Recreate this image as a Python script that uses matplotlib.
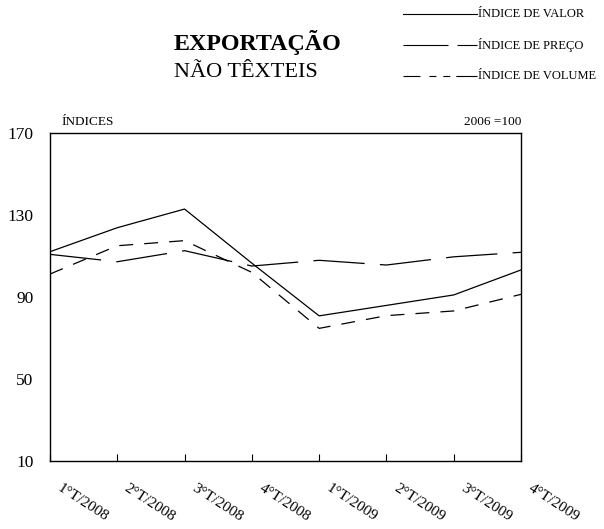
import matplotlib.pyplot as plt
import matplotlib.transforms as mtransforms
from matplotlib.lines import Line2D

plt.rcParams['font.family'] = ['Liberation Serif', 'DejaVu Serif']
plt.rcParams['lines.scale_dashes'] = False

# data
quarters = ["1°T/2008", "2°T/2008", "3°T/2008", "4°T/2008",
            "1°T/2009", "2°T/2009", "3°T/2009", "4°T/2009"]
valor = [112.1, 123.8, 132.9, 106.5, 80.8, 85.9, 91.0, 103.2]
preco = [110.8, 107.2, 112.6, 105.1, 107.9, 105.6, 109.6, 111.8]
volume = [101.2, 115.0, 117.5, 102.0, 74.7, 80.9, 83.2, 91.3]
y_ticks = [10, 50, 90, 130, 170]

fig = plt.figure(figsize=(6.04, 5.29), dpi=100)
ax = fig.add_axes([50 / 604, 1 - 461 / 529, 471 / 604, 328 / 529])

x = list(range(len(quarters)))
lw = 0.9
ax.plot(x, valor, color="black", lw=lw, ls="-")
ax.plot(x, preco, color="black", lw=lw, ls=(0, (37, 11)))
ax.plot(x, volume, color="black", lw=lw, ls=(0, (10, 8)))

ax.set_xlim(0, len(quarters) - 1)
ax.set_ylim(10, 170)
ax.set_yticks(y_ticks)
ax.tick_params(axis="y", length=0, pad=12, labelsize=12.5)
ax.set_xticks(x)
ax.set_xticklabels(quarters, fontsize=11, rotation=-33, ha="left",
                   rotation_mode="anchor")
ax.tick_params(axis="x", direction="in", length=5, pad=15, width=0.8)
shift = mtransforms.ScaledTranslation(12 / 100, 0, fig.dpi_scale_trans)
for lab in ax.get_xticklabels():
    lab.set_transform(lab.get_transform() + shift)
for s in ax.spines.values():
    s.set_linewidth(1.0)

# header texts
fig.text(174 / 604, 1 - 50 / 529, "EXPORTAÇÃO", fontsize=17.3,
         fontweight="bold", ha="left", va="baseline")
fig.text(174 / 604, 1 - 77 / 529, "NÃO TÊXTEIS", fontsize=16,
         ha="left", va="baseline")
fig.text(61 / 604, 1 - 125 / 529, "ÍNDICES", fontsize=9.5, va="baseline")
fig.text(521 / 604, 1 - 125 / 529, "2006 =100", fontsize=9.5,
         ha="right", va="baseline")

# legend drawn by hand
legend_items = [("ÍNDICE DE VALOR", "-"),
                ("ÍNDICE DE PREÇO", (0, (32.4, 6.5, 20, 0))),
                ("ÍNDICE DE VOLUME", (0, (12.2, 6.5, 5, 5, 5, 4.3, 20, 0)))]
for i, (label, style) in enumerate(legend_items):
    yy = 1 - (14 + 31 * i) / 529
    fig.add_artist(Line2D([403 / 604, 477 / 604], [yy, yy], color="black",
                          lw=0.8, ls=style, transform=fig.transFigure))
    fig.text(478 / 604, yy, label, fontsize=9, va="center", ha="left")

fig.savefig("out.png", dpi=100)
